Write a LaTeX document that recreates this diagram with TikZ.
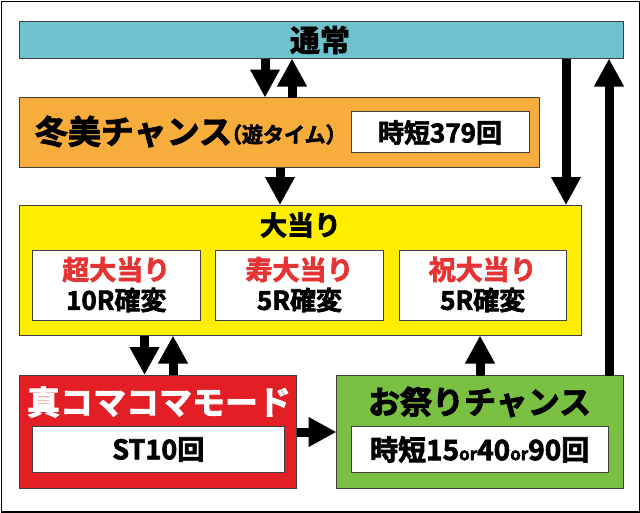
\documentclass[tikz,border=0pt]{standalone}
\usepackage{fontspec}
\usepackage{graphicx}
\setmainfont{Noto Sans CJK JP}[BoldFont={Noto Sans CJK JP Bold}, BoldFeatures={FakeBold=2.6}]
\usetikzlibrary{arrows.meta}
\definecolor{cTsujo}{HTML}{6EC3CF}
\definecolor{cOrange}{HTML}{F6AD3C}
\definecolor{cYellow}{HTML}{FFEE00}
\definecolor{cRed}{HTML}{E31E24}
\definecolor{cGreen}{HTML}{7AC143}
\definecolor{cRedText}{HTML}{E63334}
\newcommand{\fs}[1]{\fontsize{#1}{#1}\selectfont}
\begin{document}
\begin{tikzpicture}[x=1pt,y=-1pt,
  box/.style={draw=black!75, line width=0.9pt, inner sep=0pt, outer sep=0pt, anchor=north west},
  arr/.style={line width=9pt, -{Triangle[width=28pt,length=28pt]}},
  lbl/.style={inner sep=0pt, outer sep=0pt, font=\bfseries}]
\useasboundingbox (0,0) rectangle (640,512);
\node[draw=black, line width=1.5pt, inner sep=0pt, anchor=north west, minimum width=638.5pt, minimum height=510.5pt] (frame) at (0.75,0.75) {};
% boxes
\node[box, fill=cTsujo, minimum width=604pt, minimum height=37pt] (tsujo) at (19.5,21.5) {};
\node[box, fill=cOrange, minimum width=520pt, minimum height=70pt] (orange) at (19.5,97.5) {};
\node[box, fill=white, minimum width=178.5pt, minimum height=41pt] (jitan) at (351,111.5) {};
\node[box, fill=cYellow, minimum width=562pt, minimum height=130.5pt] (ooatari) at (19.5,205) {};
\node[box, fill=white, minimum width=167.5pt, minimum height=70.5pt] (cho) at (32.5,250) {};
\node[box, fill=white, minimum width=168pt, minimum height=70.5pt] (kotobuki) at (215.5,250) {};
\node[box, fill=white, minimum width=167.5pt, minimum height=70.5pt] (iwai) at (399,250) {};
\node[box, fill=cRed, minimum width=277pt, minimum height=113pt] (koma) at (19.5,375) {};
\node[box, fill=white, minimum width=251.5pt, minimum height=46.5pt] (st) at (32.5,426) {};
\node[box, fill=cGreen, minimum width=286.5pt, minimum height=112.5pt] (matsuri) at (336.5,375.5) {};
\node[box, fill=white, minimum width=256.5pt, minimum height=46pt] (jitan2) at (351.5,426.5) {};
% texts
\node[lbl, font=\bfseries\fs{30}] (tsujoT) at (320,40) {通常};
\node[lbl, anchor=west, font=\bfseries\fs{33}] (fuyumiT) at (35,131.5) {冬美チャンス};
\node[lbl, anchor=west, font=\bfseries\fs{21}] (asobiT) at (221,134.5) {（遊タイム）};
\node[lbl, font=\bfseries\fs{26}] (jitanT) at (440,132.5) {時短379回};
\node[lbl, font=\bfseries\fs{27}] (ooatariT) at (300.5,225) {大当り};
\node[lbl, text=cRedText, font=\bfseries\fs{27}] (choT) at (116.3,269.5) {超大当り};
\node[lbl, font=\bfseries\fs{26}] (choR) at (116.3,300) {10R確変};
\node[lbl, text=cRedText, font=\bfseries\fs{27}] (kotoT) at (299.5,269.5) {寿大当り};
\node[lbl, font=\bfseries\fs{26}] (kotoR) at (299.5,300) {5R確変};
\node[lbl, text=cRedText, font=\bfseries\fs{27}] (iwaiT) at (482.7,269.5) {祝大当り};
\node[lbl, font=\bfseries\fs{26}] (iwaiR) at (482.7,300) {5R確変};
\node[lbl, text=white, font=\bfseries\fs{33}] (komaT) at (159,402) {真コマコマモード};
\node[lbl, font=\bfseries\fs{27}] (stT) at (158.3,449.5) {ST10回};
\node[lbl, font=\bfseries\fs{32}] (matsuriT) at (479.6,402) {お祭りチャンス};
\node[lbl, font=\bfseries\fs{28}] (jitan2T) at (479.7,449.5) {時短15{\fs{17}or}40{\fs{17}or}90回};
% arrow columns
\coordinate (c1) at (265,0);
\coordinate (c2) at (292,0);
\coordinate (c3) at (280,0);
\coordinate (c4) at (566,0);
\coordinate (c5) at (609,0);
\coordinate (c6) at (144.5,0);
\coordinate (c7) at (173,0);
\coordinate (c8) at (480,0);
\coordinate (r1) at (0,432);
% arrows
\draw[arr] (tsujo.south -| c1) -- (orange.north -| c1);
\draw[arr] (orange.north -| c2) -- (tsujo.south -| c2);
\draw[arr] (orange.south -| c3) -- (ooatari.north -| c3);
\draw[arr] (tsujo.south -| c4) -- (ooatari.north -| c4);
\draw[arr] (matsuri.north -| c5) -- (tsujo.south -| c5);
\draw[arr] (ooatari.south -| c6) -- (koma.north -| c6);
\draw[arr] (koma.north -| c7) -- (ooatari.south -| c7);
\draw[arr] (matsuri.north -| c8) -- (ooatari.south -| c8);
\draw[arr] (koma.east |- r1) -- (matsuri.west |- r1);
\end{tikzpicture}
\end{document}
